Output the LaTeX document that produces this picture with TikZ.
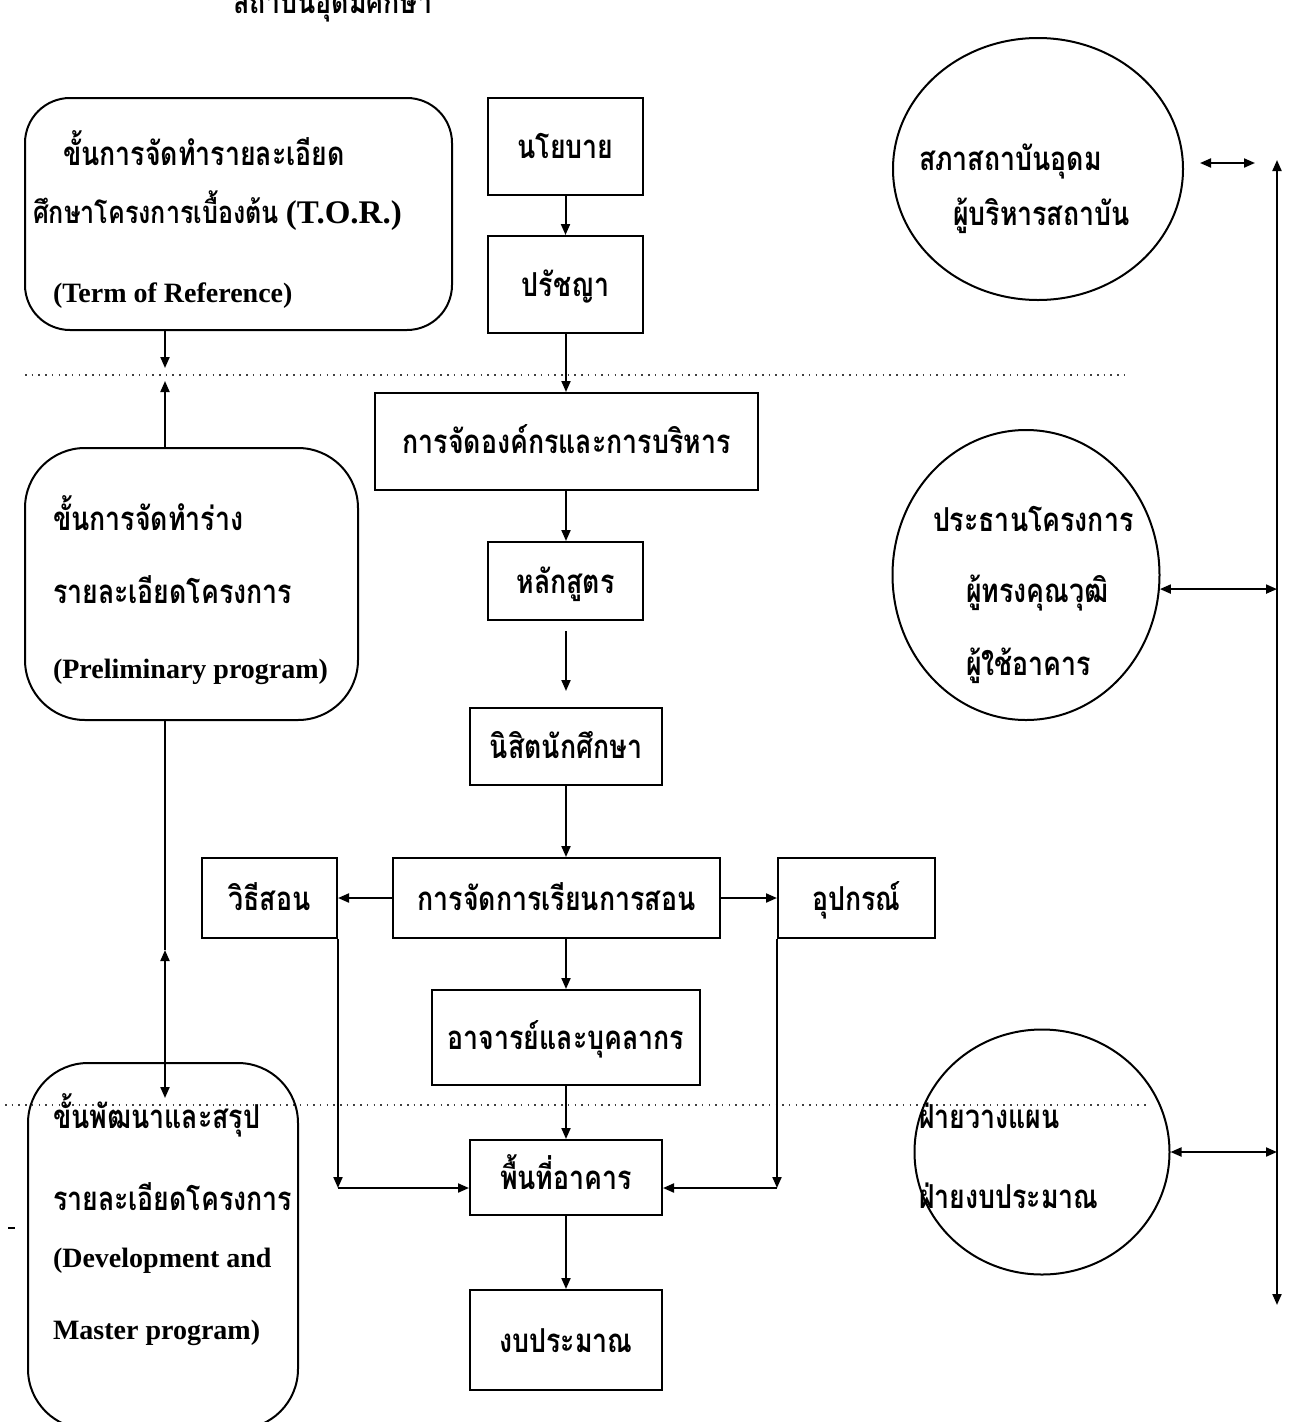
\documentclass[tikz,border=0pt]{standalone}
\usepackage{fontspec}
\setmainfont{Liberation Serif}
\newfontfamily\thaifont[Script=Thai, FakeStretch=0.81]{Loma}
\usetikzlibrary{arrows.meta,shapes.geometric}
\newcommand\THx[1]{{\thaifont\bfseries\fontsize{31}{36}\selectfont #1}}
\begin{document}
\begin{tikzpicture}[x=1pt,y=-1pt,
  line width=2pt,
  thaitext/.style={font=\thaifont\bfseries\fontsize{33}{36}\selectfont},
  engtext/.style={font=\fontsize{28}{32}\selectfont\bfseries},
  lbl/.style={thaitext, anchor=base west, inner sep=0},
  elbl/.style={engtext, anchor=base west, inner sep=0},
  box/.style={draw, rectangle, inner sep=0, thaitext, text height=28pt, text depth=4pt},
  rbox/.style={draw, rectangle, inner sep=0},
  oval/.style={draw, ellipse, inner sep=0},
  tip/.style={-{Triangle[length=11pt,width=9pt]}},
  dtip/.style={{Triangle[length=11pt,width=9pt]}-{Triangle[length=11pt,width=9pt]}},
  dotline/.style={line width=1.5pt, dash pattern=on 1.5pt off 5.2pt, black!75}]
\useasboundingbox (0,0) rectangle (1293,1422);
\clip (0,0) rectangle (1293,1422);
\fill[white] (0,0) rectangle (1293,1422);

% cut-off heading
\node[lbl] (title) at (232,13) {สถาบันอุดมศึกษา};

% dotted separators
\coordinate (dl1a) at (25,375);
\coordinate (dl1b) at (1125,375);
\coordinate (dl2a) at (5,1105);
\coordinate (dl2b) at (1150,1105);
\draw[dotline] (dl1a) -- (dl1b);
\draw[dotline] (dl2a) -- (dl2b);

% left stage boxes
\node[rbox, rounded corners=45pt, minimum width=427pt, minimum height=232pt] (tor) at (238.5,214) {};
\node[lbl] (tor1) at (62,165) {ขั้นการจัดทำรายละเอียด};
\node[elbl] (tor2) at (32,223) {\THx{ศึกษาโครงการเบื้องต้น} {\fontsize{33}{36}\selectfont(T.O.R.)}};
\node[elbl] (tor3) at (52,302) {(Term of Reference)};

\node[rbox, rounded corners=60pt, minimum width=333pt, minimum height=272pt] (pre) at (191.5,584) {};
\node[lbl] (pre1) at (52,530) {ขั้นการจัดทำร่าง};
\node[lbl] (pre2) at (52,603) {รายละเอียดโครงการ};
\node[elbl] (pre3) at (52,678) {(Preliminary program)};

\node[rbox, rounded corners=60pt, minimum width=270pt, minimum height=366pt] (dev) at (163,1246) {};
\node[lbl] (dev1) at (52,1128) {ขั้นพัฒนาและสรุป};
\node[lbl] (dev2) at (52,1210) {รายละเอียดโครงการ};
\node[elbl] (dev3) at (52,1267) {(Development and};
\node[elbl] (dev4) at (52,1339) {Master program)};
\coordinate (dashA) at (8,1228);
\coordinate (dashB) at (15,1228);
\draw[line width=1.5pt] (dashA) -- (dashB);

% central column
\node[box, minimum width=155pt, minimum height=97pt] (nayo) at (565.5,146.5) {นโยบาย};
\node[box, minimum width=155pt, minimum height=97pt] (prat) at (565.5,284.5) {ปรัชญา};
\node[box, minimum width=383pt, minimum height=97pt] (org) at (566.5,441.5) {การจัดองค์กรและการบริหาร};
\node[box, minimum width=155pt, minimum height=78pt] (lak) at (565.5,581) {หลักสูตร};
\node[box, minimum width=192pt, minimum height=77pt] (nisit) at (566,746.5) {นิสิตนักศึกษา};
\node[box, minimum width=327pt, minimum height=80pt] (teach) at (556.5,898) {การจัดการเรียนการสอน};
\node[box, minimum width=135pt, minimum height=80pt] (wi) at (269.5,898) {วิธีสอน};
\node[box, minimum width=157pt, minimum height=80pt] (upa) at (856.5,898) {อุปกรณ์};
\node[box, minimum width=268pt, minimum height=95pt] (staff) at (566,1037.5) {อาจารย์และบุคลากร};
\node[box, minimum width=192pt, minimum height=75pt] (area) at (566,1177.5) {พื้นที่อาคาร};
\node[box, minimum width=192pt, minimum height=100pt] (budget) at (566,1340) {งบประมาณ};

\coordinate (cx) at (566,0);
\draw[tip] (nayo.south) -- (nayo.south |- prat.north);
\draw[tip] (prat.south -| cx) -- (org.north -| cx);
\draw[tip] (org.south -| cx) -- (lak.north -| cx);
\draw[tip] ([yshift=-10pt]lak.south -| cx) -- ([yshift=16pt]nisit.north -| cx);
\draw[tip] (nisit.south -| cx) -- (teach.north -| cx);
\draw[tip] (teach.south -| cx) -- (staff.north -| cx);
\draw[tip] (staff.south -| cx) -- (area.north -| cx);
\draw[tip] (area.south -| cx) -- (budget.north -| cx);
\draw[tip] (teach.west) -- (wi.east);
\draw[tip] (teach.east) -- (upa.west);
\coordinate (cy) at (0,1188);
\draw[tip] (wi.south east) -- (wi.south east |- cy);
\draw[tip] (wi.south east |- cy) -- (area.west |- cy);
\draw[tip] (upa.south west) -- (upa.south west |- cy);
\draw[tip] (upa.south west |- cy) -- (area.east |- cy);

% left vertical connectors
\coordinate (lx) at (165,0);
\coordinate (d1) at (165,368);
\coordinate (d2) at (165,381);
\coordinate (d3) at (165,950);
\coordinate (d4) at (165,1098);
\draw[tip] (tor.south -| lx) -- (d1);
\draw[tip] (pre.north -| lx) -- (d2);
\draw (pre.south -| lx) -- (d3);
\draw[dtip] (d3) -- (d4);

% right circles
\node[oval, minimum width=290pt, minimum height=262pt] (c1) at (1038,169) {};
\node[lbl] (c1a) at (918,170) {สภาสถาบันอุดม};
\node[lbl] (c1b) at (952,225) {ผู้บริหารสถาบัน};
\node[oval, minimum width=267pt, minimum height=290pt] (c2) at (1026,575) {};
\node[lbl] (c2a) at (932,531) {ประธานโครงการ};
\node[lbl] (c2b) at (965,602) {ผู้ทรงคุณวุฒิ};
\node[lbl] (c2c) at (965,675) {ผู้ใช้อาคาร};
\node[oval, minimum width=255pt, minimum height=245pt] (c3) at (1042,1152) {};
\node[lbl] (c3a) at (918,1128) {ฝ่ายวางแผน};
\node[lbl] (c3b) at (918,1208) {ฝ่ายงบประมาณ};

\coordinate (vt) at (1277,160);
\coordinate (vb) at (1277,1305);
\coordinate (a1) at (1200,163);
\coordinate (a2) at (1255,163);
\draw[dtip] (vt) -- (vb);
\draw[dtip] (a1) -- (a2);
\draw[dtip] (c2.-6) -- (c2.-6 -| vt);
\draw[dtip] (c3.east) -- (c3.east -| vt);
\end{tikzpicture}
\end{document}
